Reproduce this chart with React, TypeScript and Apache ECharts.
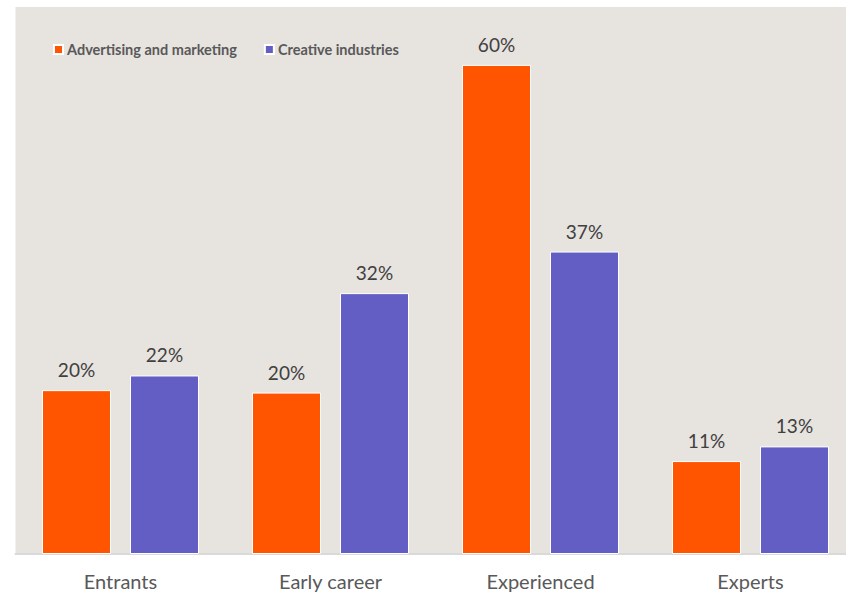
import React, { useEffect, useRef } from "react";
import * as echarts from "echarts";

const categories = ["Entrants", "Early career", "Experienced", "Experts"];
const seriesNames = ["Advertising and marketing", "Creative industries"];
const advertisingValues = [20.1, 19.8, 60.0, 11.4];
const creativeValues = [21.9, 32.0, 37.1, 13.2];
const colors = ["#FF5500", "#635EC4"];

export default function App() {
  const ref = useRef<HTMLDivElement>(null);
  useEffect(() => {
    if (!ref.current) return;
    const chart = echarts.init(ref.current, null, { renderer: "svg" });
    const font = "Lato, 'Open Sans', sans-serif";
    const mkSeries = (name: string, data: number[], color: string) => ({
      name,
      type: "bar",
      data,
      barWidth: 69,
      barGap: "27.5%",
      itemStyle: { color, borderColor: "#FFFFFF", borderWidth: 1 },
      label: {
        show: true,
        position: "top",
        distance: 11,
        color: "#404040",
        fontFamily: font,
        fontSize: 19,
        formatter: (p: any) => Math.round(p.value) + "%",
      },
    });
    chart.setOption({
      animation: false,
      backgroundColor: "#FFFFFF",
      color: colors,
      legend: {
        left: 48,
        top: 37,
        itemWidth: 9,
        itemHeight: 9,
        itemGap: 27,
        icon: "rect",
        textStyle: {
          fontFamily: font,
          fontSize: 14.5,
          fontWeight: "bold",
          color: "#595959",
          padding: [0, 0, 0, -1],
        },
        data: seriesNames,
      },
      grid: {
        show: true,
        left: 15.5,
        top: 7,
        width: 840,
        bottom: 41,
        backgroundColor: "#E7E3DF",
        borderWidth: 0,
      },
      xAxis: {
        type: "category",
        data: categories,
        axisTick: { show: false },
        axisLine: { show: true, lineStyle: { color: "#D9D9D9", width: 2 } },
        axisLabel: {
          margin: 17,
          color: "#595959",
          fontFamily: font,
          fontSize: 20,
        },
      },
      yAxis: {
        type: "value",
        min: 0,
        max: 67.1,
        show: false,
        splitLine: { show: false },
      },
      series: [
        mkSeries(seriesNames[0], advertisingValues, colors[0]),
        mkSeries(seriesNames[1], creativeValues, colors[1]),
      ],
    });
    return () => chart.dispose();
  }, []);
  return (
    <div
      style={{
        position: "fixed",
        left: 0,
        top: 0,
        width: 846,
        height: 595,
        overflow: "hidden",
        background: "#FFFFFF",
      }}
    >
      <div ref={ref} style={{ width: 860, height: 595 }} />
    </div>
  );
}
